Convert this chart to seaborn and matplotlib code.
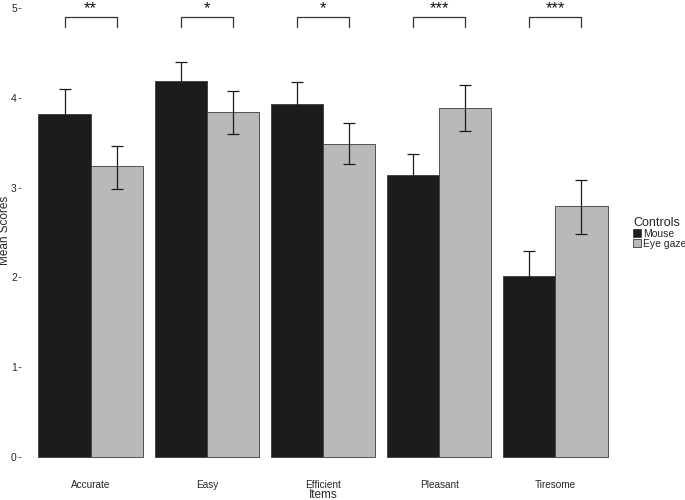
import numpy as np
import pandas as pd
import matplotlib
matplotlib.use("Agg")
import matplotlib.pyplot as plt
import seaborn as sns

items = ["Accurate", "Easy", "Efficient", "Pleasant", "Tiresome"]
controls = ["Mouse", "Eye gaze"]
mouse_mean = [3.82, 4.19, 3.93, 3.14, 2.02]
mouse_lo = [3.52, 3.97, 3.68, 2.90, 1.72]
mouse_hi = [4.10, 4.40, 4.18, 3.37, 2.30]
eye_mean = [3.24, 3.84, 3.49, 3.89, 2.80]
eye_lo = [2.99, 3.60, 3.26, 3.63, 2.48]
eye_hi = [3.47, 4.08, 3.72, 4.14, 3.09]
stars = ["**", "*", "*", "***", "***"]
bracket_y = 4.90
bracket_drop = 0.11

sns.set_theme(style="white")
plt.rcParams["font.family"] = ["Liberation Sans", "DejaVu Sans"]

df = pd.DataFrame({
    "Items": items * 2,
    "Controls": ["Mouse"] * 5 + ["Eye gaze"] * 5,
    "Mean": mouse_mean + eye_mean,
})

fig = plt.figure(figsize=(6.85, 5.0), dpi=100)
ax = fig.add_axes([21 / 685, 0.077, (625 - 21) / 685, 0.921])

sns.barplot(data=df, x="Items", y="Mean", hue="Controls", order=items,
            hue_order=controls, palette=["#1c1c1c", "#b9b9b9"], errorbar=None,
            width=0.9, edgecolor="#3a3a3a", linewidth=0.6, ax=ax, legend=True)

bar_containers = list(ax.containers)[:2]
los = [mouse_lo, eye_lo]
his = [mouse_hi, eye_hi]
centers = []
for k, cont in enumerate(bar_containers):
    cx = [b.get_x() + b.get_width() / 2 for b in cont.patches]
    centers.append(cx)
    means = [mouse_mean, eye_mean][k]
    lo = np.array(los[k]); hi = np.array(his[k]); m = np.array(means)
    ax.errorbar(cx, m, yerr=[m - lo, hi - m], fmt="none", ecolor="#1a1a1a",
                elinewidth=0.9, capsize=4.3, capthick=0.9, zorder=5)

for i in range(len(items)):
    x0, x1 = centers[0][i], centers[1][i]
    ax.plot([x0, x0, x1, x1], [bracket_y - bracket_drop, bracket_y, bracket_y, bracket_y - bracket_drop],
            color="#333333", lw=0.9)
    ax.text((x0 + x1) / 2, 4.95, stars[i], ha="center", va="baseline",
            fontsize=12, color="#111111")

ax.set_xlim(-0.6, 4.6)
ax.set_ylim(-0.05, 5.08)
ax.set_yticks([0, 1, 2, 3, 4, 5])
ax.set_yticklabels(["0", "1", "2", "3", "4", "5"])
for s in ax.spines.values():
    s.set_visible(False)
ax.tick_params(axis="y", length=2, width=0.6, color="#555555", pad=1, labelsize=7.5, left=True)
ax.tick_params(axis="x", length=0, pad=13.5, labelsize=7.2)
ax.set_xlabel("Items", fontsize=8.5, labelpad=-0.6)
ax.set_ylabel("Mean Scores", fontsize=8.5)
ax.yaxis.set_label_coords(11 / 685, 0.54, transform=fig.transFigure)

leg = ax.legend(title="Controls", loc="center left", bbox_to_anchor=(633 / 685, 0.534),
                bbox_transform=fig.transFigure, frameon=False, fontsize=7.5,
                title_fontsize=9, handlelength=0.8, handleheight=0.8,
                handletextpad=0.15, labelspacing=0.0, borderaxespad=0, borderpad=0)
leg._legend_box.align = "left"
leg._legend_box.sep = 0

fig.savefig("out.png", dpi=100)
